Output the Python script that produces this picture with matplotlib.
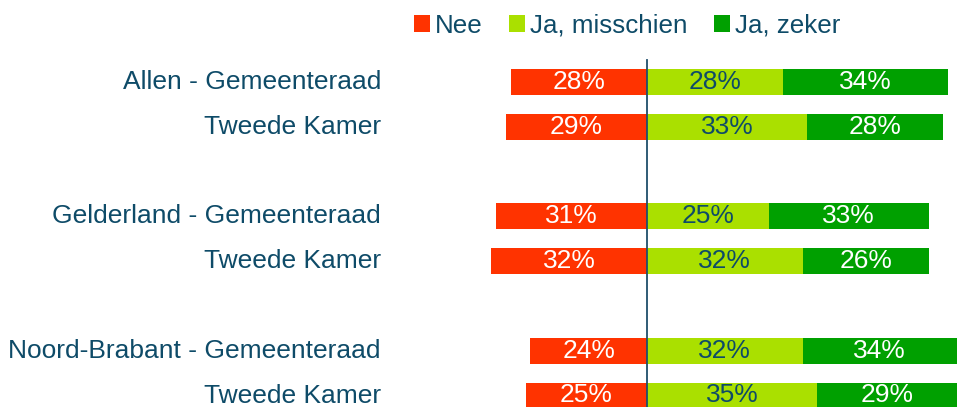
import matplotlib.pyplot as plt
import numpy as np

plt.rcParams["font.family"] = ["Liberation Sans", "DejaVu Sans"]

labels = [
    "Allen - Gemeenteraad",
    "Tweede Kamer",
    "Gelderland - Gemeenteraad",
    "Tweede Kamer",
    "Noord-Brabant - Gemeenteraad",
    "Tweede Kamer",
]
rows = [0, 1, 3, 4, 6, 7]
nee = [28, 29, 31, 32, 24, 25]
misschien = [28, 33, 25, 32, 32, 35]
zeker = [34, 28, 33, 26, 34, 29]

series = ["Nee", "Ja, misschien", "Ja, zeker"]
colors = ["#FF3300", "#AAE000", "#00A000"]
text_col = "#0E4B68"


def main():
    W, H = 957, 407
    fig = plt.figure(figsize=(W / 100, H / 100), dpi=100)
    ax = fig.add_axes([0, 0, 1, 1])

    px_pct = 4.86
    px_row = 44.8
    cx, top_row = 647, 82
    ax.set_xlim(-cx / px_pct, (W - cx) / px_pct)
    ax.set_ylim((H - top_row) / px_row, -top_row / px_row)
    ax.axis("off")

    y = np.array(rows)
    h = 26 / px_row
    b1 = ax.barh(y, -np.array(nee), height=h, color=colors[0], label=series[0])
    b2 = ax.barh(y, misschien, height=h, color=colors[1], label=series[1])
    b3 = ax.barh(y, zeker, left=misschien, height=h, color=colors[2], label=series[2])

    for bars, vals, tc in [(b1, nee, "white"), (b2, misschien, text_col), (b3, zeker, "white")]:
        ax.bar_label(bars, labels=[f"{v}%" for v in vals], label_type="center",
                     color=tc, fontsize=19)

    ax.plot([0, 0], [7.6, -22 / px_row], color="#1F4E6B", lw=1.3)

    for yy, lab in zip(rows, labels):
        ax.text((381 - cx) / px_pct, yy, lab, ha="right", va="center",
                fontsize=19, color=text_col)

    fig.legend(loc="center left", bbox_to_anchor=(414 / W, 1 - 26 / H), ncol=3,
               frameon=False, fontsize=18.7, handlelength=0.62, handleheight=0.62,
               handletextpad=0.2, columnspacing=1.0, borderpad=0,
               borderaxespad=0, labelcolor=text_col)

    fig.savefig("out.png", dpi=100)


if __name__ == "__main__":
    main()
